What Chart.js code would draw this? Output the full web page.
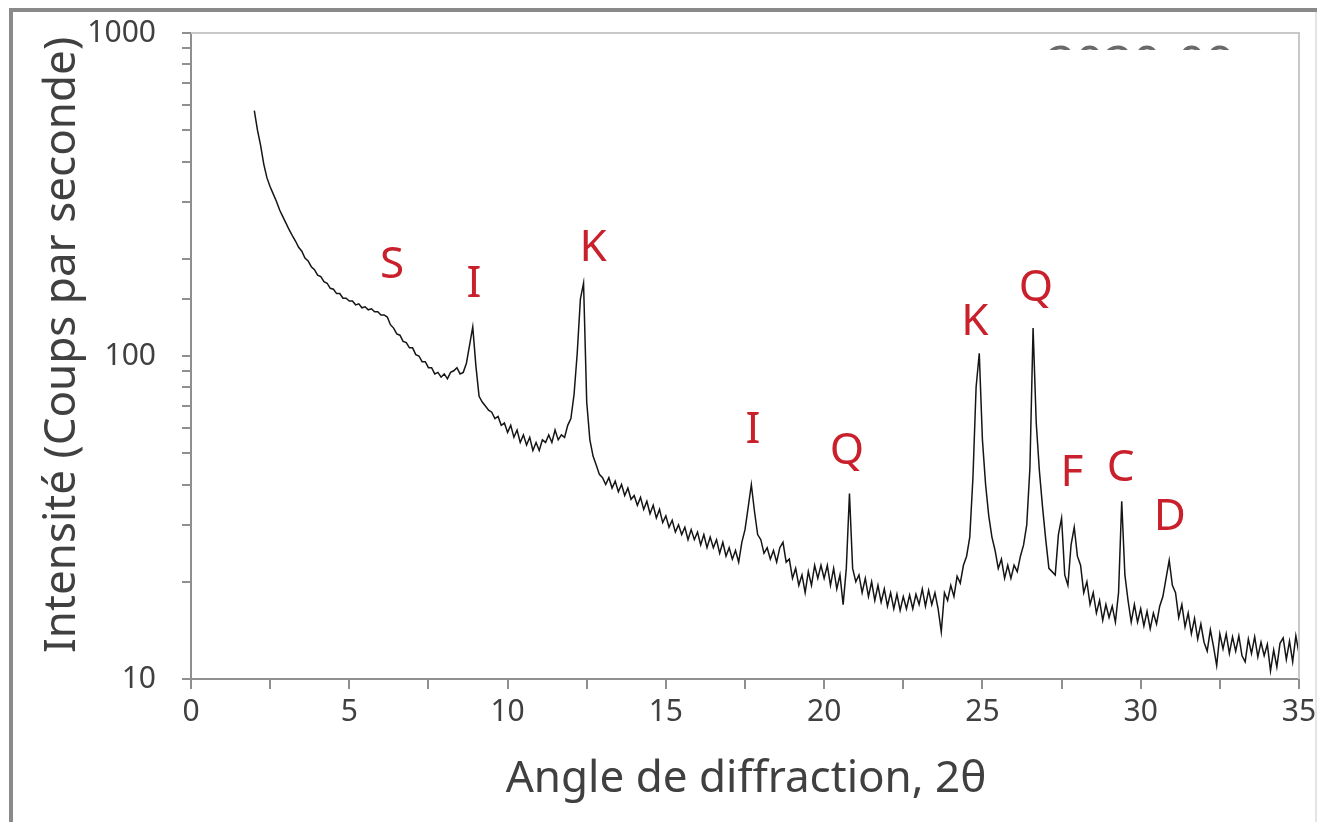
<!DOCTYPE html>
<html>
<head>
<meta charset="utf-8">
<script src="https://cdn.jsdelivr.net/npm/chart.js@4/dist/chart.umd.min.js"></script>
<style>
  html, body { margin: 0; padding: 0; background: #ffffff; }
  canvas { display: block; }
</style>
</head>
<body>
<canvas id="c" width="1329" height="822"></canvas>
<script>
// ---- data ----
const angleStart = 2.0;   // first 2θ value of the scan
const angleStep = 0.1;    // 2θ step between readings
// intensity (counts/s), one row per degree: x.0 … x.9
const intensity = [
  575, 500, 448, 392, 356, 334, 317, 301, 283, 270,
  258, 246, 236, 227, 217, 211, 201, 197, 189, 185,
  178, 176, 170, 168, 162, 161, 156, 156, 151, 151,
  148, 148, 144, 145, 141, 142, 139, 140, 137, 137,
  134, 134, 132, 125, 122, 117, 116, 111, 110, 106,
  106, 101, 100, 96, 96, 92, 92, 88, 89, 86,
  88, 85, 89, 90, 92, 88, 89, 95, 108, 123,
  93, 75, 72, 70, 68, 67, 64, 65, 61, 62,
  58, 61, 56, 59, 54, 57, 53, 56, 51, 54,
  51, 55, 54, 57, 54, 59, 55, 57, 56, 61,
  64, 76, 102, 150, 168, 72, 55, 49, 46, 43,
  42, 40, 42, 39, 41, 38, 40, 37, 39, 36,
  37, 34.5, 36.5, 33.5, 35.5, 32.5, 34.5, 31.5, 33.5, 30.5,
  32, 29.5, 31, 28.5, 30, 28, 29.5, 27, 29, 27,
  28.5, 26, 28, 25.5, 27.5, 25.5, 27, 24.5, 26.5, 24,
  25.5, 23.5, 25, 23, 26.5, 29, 34, 40, 33, 28,
  27, 24.5, 25.5, 23.5, 25, 23, 25.5, 26.5, 23, 23.5,
  20.5, 22, 19.5, 21, 18.5, 21.5, 19.5, 22.5, 20.5, 22.5,
  20.5, 22.5, 19.5, 22, 19, 21, 17, 22, 37.5, 22,
  20, 21, 18.5, 20.5, 18, 20, 17.5, 19.5, 17.3, 19,
  16.8, 18.5, 16.5, 18.3, 16.3, 18, 16.5, 18.2, 16.5, 18.3,
  17, 19, 16.8, 18.8, 17, 18.5, 16.5, 14, 18.5, 17.5,
  19.5, 18, 20.8, 19.8, 22.5, 24, 27.5, 42, 80, 102,
  55, 40, 32, 27.5, 25, 22, 23.5, 20.5, 22.5, 20.5,
  22.5, 21.5, 24, 26, 30, 45, 122, 62, 44, 34,
  27, 22, 21.5, 21, 28, 31.5, 21, 19.5, 26, 29.5,
  24, 22.5, 18.5, 20, 17, 18.5, 16, 17.5, 15.2, 17,
  15.5, 16.8, 15, 18.5, 35.5, 21, 17.5, 15, 17, 15,
  16.5, 14.6, 16.2, 14.3, 16, 14.8, 16.8, 18, 20.5, 23.3,
  19.5, 18.5, 15.5, 17, 14.5, 16, 13.8, 15.4, 13.3, 14.8,
  13, 12.2, 14.2, 12.6, 11, 13.8, 12.4, 13.8, 12, 13.5,
  12.2, 13.6, 11.8, 11.3, 13.3, 12, 13.5, 11.7, 13, 11.8,
  12.8, 10.6, 12.3, 10.9, 12.9, 13.4, 11.5, 13.1, 11.3, 13.6,
  12
];
const angles = intensity.map((_, i) => +(angleStart + i * angleStep).toFixed(1));

// axis ticks
const xMin = 0, xMax = 35, xTickStep = 2.5, xLabelEvery = 5;
const yMin = 10, yMax = 1000;
const yLabelled = [10, 100, 1000];

// peak annotations (mineral letters) placed in data coordinates
const peakLabels       = ['S', 'I', 'K', 'I', 'Q', 'K', 'Q', 'F', 'C', 'D'];
const labelAngles      = [6.35, 8.94, 12.70, 17.75, 20.72, 24.76, 26.69, 27.83, 29.37, 30.92];
const labelIntensities = [190, 167, 216, 59, 50.8, 127, 162, 43.4, 45, 31.7];

const xTitle = 'Angle de diffraction, 2θ';
const yTitle = 'Intensité (Coups par seconde)';
const sampleTag = '2020-09';

// ---- drawing ----
const FONT = '"Noto Sans", "Open Sans", sans-serif';
const textGrey = '#404040';
const axisGrey = '#8f8f8f';

const decorations = {
  id: 'decorations',
  beforeDraw(chart) {
    const { ctx } = chart;
    ctx.save();
    ctx.fillStyle = '#ffffff';
    ctx.fillRect(0, 0, chart.width, chart.height);
    ctx.restore();
  },
  afterDraw(chart) {
    const { ctx, chartArea: a, scales: { x, y } } = chart;
    ctx.save();
    // plot box (top and right sides)
    ctx.strokeStyle = '#c8c8c8';
    ctx.lineWidth = 2;
    ctx.beginPath();
    ctx.moveTo(a.left, a.top);
    ctx.lineTo(a.right, a.top);
    ctx.lineTo(a.right, a.bottom);
    ctx.stroke();

    // mineral letters
    ctx.fillStyle = '#c9202b';
    ctx.font = '44px ' + FONT;
    ctx.textAlign = 'center';
    ctx.textBaseline = 'middle';
    peakLabels.forEach((t, i) => {
      ctx.fillText(t, x.getPixelForValue(labelAngles[i]), y.getPixelForValue(labelIntensities[i]));
    });

    // axis titles
    ctx.fillStyle = textGrey;
    ctx.font = '44px ' + FONT;
    ctx.fillText(xTitle, 746, 779);
    ctx.save();
    ctx.translate(62, 345);
    ctx.rotate(-Math.PI / 2);
    ctx.fillText(yTitle, 0, 0);
    ctx.restore();

    // partly hidden sample tag at the top right
    ctx.save();
    ctx.beginPath();
    ctx.rect(1030, 44, 230, 6);
    ctx.clip();
    ctx.fillStyle = '#6a6a6a';
    ctx.font = '50px ' + FONT;
    ctx.textAlign = 'left';
    ctx.textBaseline = 'alphabetic';
    ctx.fillText(sampleTag, 1047, 81);
    ctx.restore();

    // outer frame
    ctx.fillStyle = '#8a8a8a';
    ctx.fillRect(9, 8, 1308, 4);
    ctx.fillRect(9, 8, 4, 814);
    ctx.fillStyle = '#e4e4e4';
    ctx.fillRect(1315, 12, 2, 810);
    ctx.restore();
  }
};

new Chart(document.getElementById('c'), {
  type: 'line',
  data: {
    datasets: [{
      data: angles.map((a, i) => ({ x: a, y: intensity[i] })),
      borderColor: '#151515',
      borderWidth: 1.5,
      pointRadius: 0,
      tension: 0,
      fill: false
    }]
  },
  options: {
    responsive: false,
    animation: false,
    events: [],
    layout: { padding: { top: 33, right: 30, left: 0, bottom: 0 } },
    plugins: { legend: { display: false }, tooltip: { enabled: false } },
    scales: {
      x: {
        type: 'linear',
        min: xMin, max: xMax,
        afterFit: s => { s.height = 143; s.paddingLeft = 0; s.paddingRight = 0; },
        ticks: {
          stepSize: xTickStep,
          autoSkip: false,
          maxRotation: 0,
          padding: 5,
          color: textGrey,
          font: { family: FONT, size: 30 },
          callback: v => (v % xLabelEvery === 0 ? String(v) : '')
        },
        grid: { drawOnChartArea: false, drawTicks: true, tickLength: 10, color: axisGrey, lineWidth: 2 },
        border: { color: axisGrey, width: 2 }
      },
      y: {
        type: 'logarithmic',
        min: yMin, max: yMax,
        afterFit: s => { s.width = 191; s.paddingTop = 0; s.paddingBottom = 0; },
        ticks: {
          autoSkip: false,
          padding: 26,
          color: textGrey,
          font: { family: FONT, size: 30 },
          callback: v => (yLabelled.includes(Math.round(v)) ? String(Math.round(v)) : '')
        },
        grid: { drawOnChartArea: false, drawTicks: true, tickLength: 9, color: axisGrey, lineWidth: 2 },
        border: { color: axisGrey, width: 2 }
      }
    }
  },
  plugins: [decorations]
});
</script>
</body>
</html>
